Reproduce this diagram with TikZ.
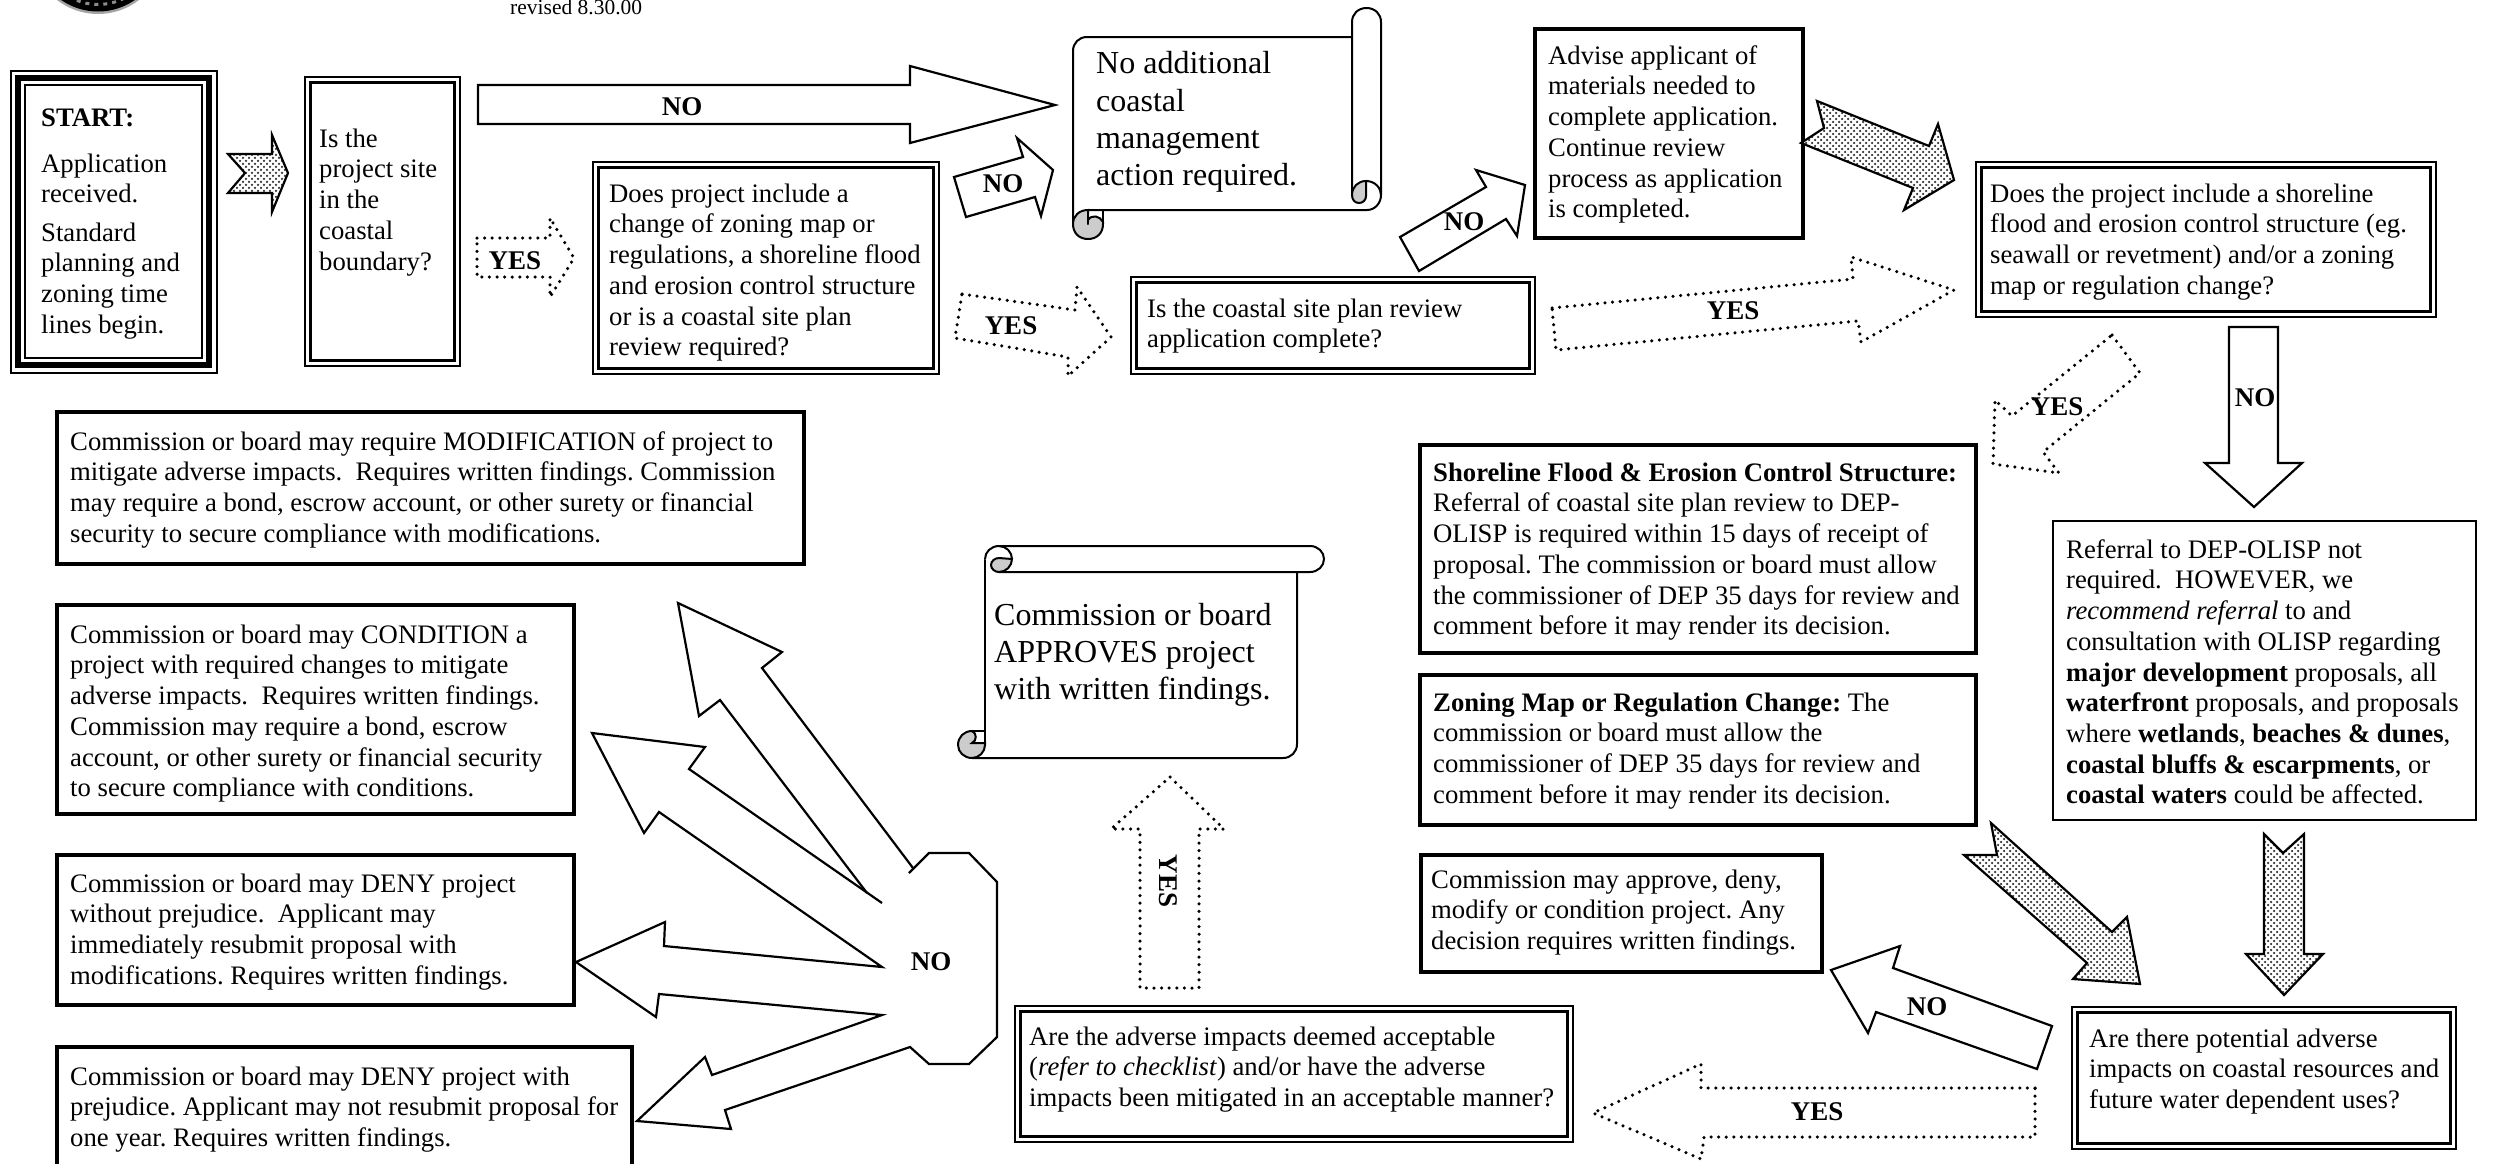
\documentclass[tikz,border=0pt]{standalone}
\usepackage{fontspec}
\setmainfont{Liberation Serif}
\usetikzlibrary{patterns,fit,calc}
\AtBeginDocument{\frenchspacing}
\pgfdeclarepatternformonly{stipdots}{\pgfqpoint{-1.5pt}{-1.5pt}}{\pgfqpoint{4.5pt}{4.5pt}}{\pgfqpoint{6pt}{6pt}}{
  \pgfpathcircle{\pgfqpoint{0pt}{0pt}}{1.25pt}
  \pgfpathcircle{\pgfqpoint{3pt}{3pt}}{1.25pt}
  \pgfusepath{fill}}
\tikzset{
  base/.style={line width=2.2pt, line join=miter, miter limit=6},
  solidarrow/.style={base, draw=black, fill=white},
  dotarrow/.style={draw=black, line width=3.5pt, line cap=round, line join=round, dash pattern=on 0pt off 7.6pt},
  stiparrow/.style={base, draw=black, preaction={fill=white}, pattern=stipdots, pattern color=black!80},
  lab/.style={font=\fontsize{27}{30}\selectfont\bfseries, inner sep=0pt},
  txt/.style={font=\fontsize{26.7}{30.7}\selectfont, anchor=north west, align=left, inner sep=0pt},
  bigtxt/.style={font=\fontsize{32}{37.2}\selectfont, anchor=north west, align=left, inner sep=0pt},
  thickbox/.style={draw=black, line width=4.5pt, fill=white},
  thinbox/.style={draw=black, line width=2pt, fill=white},
  dblbox/.style={draw=black, line width=2.6pt, fill=white},
  triobox/.style={draw=black, line width=2pt, fill=white},
  rollgrey/.style={fill=black!20, draw=black, line width=2pt},
  rollline/.style={draw=black, line width=2pt, line cap=round}
}
\newcommand{\bx}[6]{\node[fit={(#2,#3)(#4,#5)},inner sep=0pt,outer sep=0pt,#6] (#1) {};}
\newcommand{\dbl}[5]{\bx{#1}{#2}{#3}{#4}{#5}{dblbox}
  \draw[black,line width=2.6pt] ($(#1.north west)+(5.5,5.5)$) rectangle ($(#1.south east)+(-5.5,-5.5)$);}
\newcommand{\tl}[5][txt]{\node[#1] (#2) at (#3,#4-22) {\rule{0pt}{22pt}#5};}
\begin{document}
\begin{tikzpicture}[x=1pt,y=-1pt]
\useasboundingbox (0,0) rectangle (2494,1163);
\clip (0,0) rectangle (2494,1163);
% seal
\fill[black!35] (98,-53) circle[radius=67];
\fill[black] (98,-53) circle[radius=64.5];
\draw[black!45,line width=3pt,dash pattern=on 4pt off 5pt] (98,-53) circle[radius=57.5];
\node[font=\fontsize{21.5}{24}\selectfont,anchor=base west,inner sep=0pt] (rev) at (510,14.5) {revised 8.30.00};
% boxes
\bx{start}{10.5}{70.5}{216.5}{372.5}{triobox}
\draw[black,line width=6pt] (18,77.5) rectangle (209,365);
\draw[black,line width=2pt] (25,84.5) rectangle (202,358);
\dbl{site}{305}{77}{460}{366}
\dbl{does}{593}{162}{939}{374}
\dbl{complete}{1131}{277}{1535}{374}
\bx{advise}{1535}{29}{1803}{238}{thickbox}
\dbl{doesb}{1976}{162}{2436}{317}
\bx{shore}{1420}{445}{1976}{653}{thickbox}
\bx{zoning}{1420}{675}{1976}{825}{thickbox}
\bx{approve}{1421}{855}{1822}{972}{thickbox}
\bx{referral}{2053}{521}{2476}{820}{thinbox}
\dbl{potential}{2072}{1007}{2456}{1149}
\dbl{accept}{1015}{1006}{1573}{1142}
\bx{modif}{57}{412}{804}{564}{thickbox}
\bx{cond}{57}{605}{574}{814}{thickbox}
\bx{denya}{57}{855}{574}{1005}{thickbox}
\bx{denyb}{57}{1047}{632}{1175}{thickbox}
% text
\tl[txt]{tstart}{41}{126}{\textbf{START:}}
\tl[txt]{tstarta}{41}{172}{Application\\received.}
\tl[txt]{tstartb}{41}{241}{Standard\\planning and\\zoning time\\lines begin.}
\tl{tsite}{319}{147}{Is the\\project site\\in the\\coastal\\boundary?}
\tl{tdoes}{609}{202}{Does project include a\\change of zoning map or\\regulations, a shoreline flood\\and erosion control structure\\or is a coastal site plan\\review required?}
\tl{tcomplete}{1147}{317}{Is the coastal site plan review\\application complete?}
\tl{tadvise}{1548}{64}{Advise applicant of\\materials needed to\\complete application.\\Continue review\\process as application\\is completed.}
\tl{tdoesb}{1990}{202}{Does the project include a shoreline\\flood and erosion control structure (eg.\\seawall or revetment) and/or a zoning\\map or regulation change?}
\tl{tshore}{1433}{481}{\textbf{Shoreline Flood \& Erosion Control Structure:}\\Referral of coastal site plan review to DEP-\\OLISP is required within 15 days of receipt of\\proposal. The commission or board must allow\\the commissioner of DEP 35 days for review and\\comment before it may render its decision.}
\tl{tzoning}{1433}{711}{\textbf{Zoning Map or Regulation Change:} The\\commission or board must allow the\\commissioner of DEP 35 days for review and\\comment before it may render its decision.}
\tl{tapprove}{1431}{888}{Commission may approve, deny,\\modify or condition project. Any\\decision requires written findings.}
\tl{treferral}{2066}{558}{Referral to DEP-OLISP not\\required.\ \ HOWEVER, we\\\textit{recommend referral} to and\\consultation with OLISP regarding\\\textbf{major development} proposals, all\\\textbf{waterfront} proposals, and proposals\\where \textbf{wetlands}, \textbf{beaches \& dunes},\\\textbf{coastal bluffs \& escarpments}, or\\\textbf{coastal waters} could be affected.}
\tl{tpotential}{2089}{1047}{Are there potential adverse\\impacts on coastal resources and\\future water dependent uses?}
\tl{taccept}{1029}{1045}{Are the adverse impacts deemed acceptable\\(\textit{refer to checklist}) and/or have the adverse\\impacts been mitigated in an acceptable manner?}
\tl{tmodif}{70}{450}{Commission or board may require MODIFICATION of project to\\mitigate adverse impacts.\ \ Requires written findings. Commission\\may require a bond, escrow account, or other surety or financial\\security to secure compliance with modifications.}
\tl{tcond}{70}{643}{Commission or board may CONDITION a\\project with required changes to mitigate\\adverse impacts.\ \ Requires written findings.\\Commission may require a bond, escrow\\account, or other surety or financial security\\to secure compliance with conditions.}
\tl{tdenya}{70}{892}{Commission or board may DENY project\\without prejudice.\ \ Applicant may\\immediately resubmit proposal with\\modifications. Requires written findings.}
\tl{tdenyb}{70}{1085}{Commission or board may DENY project with\\prejudice. Applicant may not resubmit proposal for\\one year. Requires written findings.}
% scroll 1
\fill[white] (1073,224) -- (1073,51) .. controls (1073,43) and (1079,37) .. (1087,37) -- (1352,37) -- (1352,20) -- (1381,20) -- (1381,195) -- (1367,210) -- (1088,210) -- cycle;
\draw[rollline] (1352,37) -- (1087,37) .. controls (1079,37) and (1073,43) .. (1073,51) -- (1073,224);
\draw[rollline] (1088,210) -- (1367,210) .. controls (1375,210) and (1381,203) .. (1381,195) -- (1381,22) .. controls (1381,14) and (1375,8) .. (1366.5,8) .. controls (1358,8) and (1352,14) .. (1352,22) -- (1352,195);
\draw[rollgrey] (1366,181) .. controls (1358,181) and (1352,187) .. (1352,195) .. controls (1352,200) and (1355,203) .. (1359,203) .. controls (1363,203) and (1366,200) .. (1366,196) -- cycle;
\draw[rollline] (1366,181) .. controls (1375,181) and (1381,188) .. (1381,195);
\draw[rollgrey] (1088,210) .. controls (1079,210) and (1073,216) .. (1073,224) .. controls (1073,233) and (1079,239) .. (1088,239) .. controls (1097,239) and (1103,233) .. (1103,224) -- (1103,222) .. controls (1100,216) and (1092,214) .. (1088,220) -- cycle;
\draw[rollline] (1103,222) -- (1103,210);
\draw[rollline] (1088,210) -- (1088,224);
\tl[bigtxt]{tnoadd}{1096}{73.5}{No additional\\coastal\\management\\action required.}
% scroll 2
\fill[white] (985,559) -- (985,758) -- (1283,758) .. controls (1291,758) and (1297,752) .. (1297,744) -- (1297,559) -- cycle;
\draw[rollline] (985,560) -- (985,745);
\draw[rollline] (972,758) -- (1283,758) .. controls (1291,758) and (1297,752) .. (1297,744) -- (1297,572);
\draw[rollline,fill=white] (985,559) .. controls (985,552) and (991,546) .. (999,546) -- (1310,546) .. controls (1318,546) and (1324,552) .. (1324,559) .. controls (1324,566) and (1318,572) .. (1310,572) -- (999,572);
\draw[rollgrey] (1012,559) .. controls (1012,566) and (1006,572) .. (999,572) .. controls (995,572) and (991,569) .. (991,565) .. controls (991,561) and (995,558) .. (999,558) -- cycle;
\draw[rollline] (999,546) .. controls (1006,546) and (1012,552) .. (1012,559);
\draw[rollgrey] (972,731) .. controls (964,731) and (958,737) .. (958,745) .. controls (958,752) and (964,758) .. (972,758) .. controls (979,758) and (985,752) .. (985,745) -- (985,743) -- (972,743) .. controls (977,741) and (977,733) .. (972,731) -- cycle;
\draw[rollline] (972,731) -- (985,731);
\tl[bigtxt]{tapproves}{994}{625}{Commission or board\\APPROVES project\\with written findings.}
% solid arrows
\draw[solidarrow] (478,85) -- (910,85) -- (910,66) -- (1055,105) -- (910,143) -- (910,124) -- (478,124) -- cycle;
\node[lab] (lno1) at (682,107) {NO};
\draw[solidarrow] (954,177) -- (1023,157) -- (1017,138) -- (1053,170) -- (1041,216) -- (1035,197) -- (966,217) -- cycle;
\node[lab] (lno2) at (1003,184) {NO};
\draw[solidarrow] (1400,237) -- (1486,187) -- (1476,170) -- (1525,185) -- (1517,236) -- (1506,219) -- (1419,271) -- cycle;
\node[lab] (lno3) at (1464,222) {NO};
\draw[solidarrow] (2229,327) -- (2278,327) -- (2278,463) -- (2302,463) -- (2254,507) -- (2205,463) -- (2229,463) -- cycle;
\node[lab] (lno4) at (2255,398) {NO};
\draw[solidarrow] (2052,1026) -- (1893,968) -- (1900,946) -- (1831,970) -- (1868,1033) -- (1876,1012) -- (2037,1069) -- cycle;
\node[lab] (lno5) at (1927,1007) {NO};
% stippled
\draw[stiparrow] (228,154) -- (272,154) -- (272,135) -- (288,173) -- (272,212) -- (272,193) -- (228,193) -- (245,173) -- cycle;
\draw[stiparrow] (1817,101) -- (1929,146) -- (1938,124) -- (1954,180) -- (1904,210) -- (1913,188) -- (1801,143) -- (1824,128) -- cycle;
\draw[stiparrow] (1991,823) -- (2112,932) -- (2127,917) -- (2140,984) -- (2073,979) -- (2087,963) -- (1964,855) -- (1997,855) -- cycle;
\draw[stiparrow] (2264,834) -- (2283,853) -- (2304,834) -- (2304,954) -- (2323,954) -- (2284,995) -- (2246,954) -- (2264,954) -- cycle;
% dotted
\draw[dotarrow] (477,238) -- (550,238) -- (550,218) -- (574,258) -- (550,297) -- (550,277) -- (477,277) -- cycle;
\node[lab] (lyes1) at (515,261) {YES};
\draw[dotarrow] (962,294) -- (1075,310) -- (1077,287) -- (1111,337) -- (1068,376) -- (1068,357) -- (955,338) -- cycle;
\node[lab] (lyes2) at (1011,326) {YES};
\draw[dotarrow] (1552,308) -- (1853,279) -- (1851,257) -- (1954,290) -- (1861,342) -- (1858,321) -- (1556,350) -- cycle;
\node[lab] (lyes3) at (1733,311) {YES};
\draw[dotarrow] (2112,335) -- (2140,373) -- (2043,452) -- (2059,473) -- (1993,464) -- (1995,400) -- (2012,416) -- cycle;
\node[lab] (lyes4) at (2057,407) {YES};
\draw[dotarrow] (2035,1088) -- (1701,1088) -- (1701,1064) -- (1593,1113) -- (1701,1159) -- (1704,1137) -- (2035,1137) -- cycle;
\node[lab] (lyes5) at (1817,1112) {YES};
\draw[dotarrow] (1170,777) -- (1224,829) -- (1199,829) -- (1199,988) -- (1140,988) -- (1140,829) -- (1111,829) -- cycle;
\node[lab,rotate=-90] (lyes6) at (1168,881) {YES};
% NO burst
\draw[base,draw=black] (913,868) -- (762,668) -- (782,652) -- (678,603) -- (699,716) -- (720,700) -- (867,893);
\draw[base,draw=black] (882,903) -- (689,769) -- (705,747) -- (592,733) -- (644,833) -- (659,812) -- (882,967) -- (664,946) -- (665,922) -- (576,962) -- (656,1017) -- (659,994) -- (882,1015) -- (712,1075) -- (705,1057) -- (637,1121) -- (731,1129) -- (725,1110) -- (910,1047) -- (929,1064) -- (969,1064) -- (997,1037) -- (997,882) -- (969,853) -- (929,853) -- (909,873);
\node[lab] (lno6) at (931,962) {NO};
\end{tikzpicture}
\end{document}
